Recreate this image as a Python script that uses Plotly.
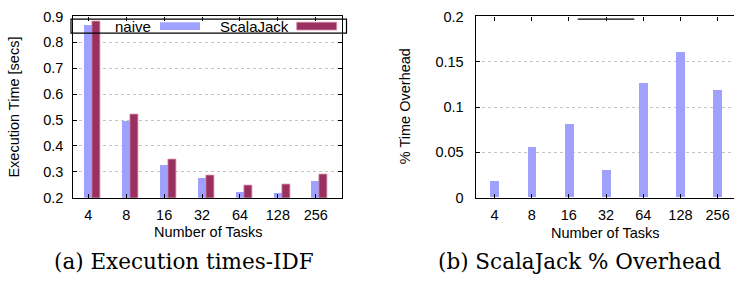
import plotly.graph_objects as go

# ---- data ----
categories = ["4", "8", "16", "32", "64", "128", "256"]
naive_times = [0.866, 0.495, 0.325, 0.276, 0.222, 0.217, 0.261]
scalajack_times = [0.881, 0.522, 0.349, 0.284, 0.249, 0.250, 0.291]
overhead = [0.0177, 0.0549, 0.081, 0.0295, 0.126, 0.160, 0.118]
left_yticks = [0.2, 0.3, 0.4, 0.5, 0.6, 0.7, 0.8, 0.9]
left_yticktext = ["0.2", "0.3", "0.4", "0.5", "0.6", "0.7", "0.8", "0.9"]
right_yticks = [0, 0.05, 0.1, 0.15, 0.2]
right_yticktext = ["0", "0.05", "0.1", "0.15", "0.2"]

W, H = 734, 285
xpos = list(range(len(categories)))

NAIVE = "#a0a0ff"
SJ = "#99305f"
SANS = "Liberation Sans, Arial, sans-serif"
SERIF = "DejaVu Serif, serif"
FS = 14.5


def px(x):
    return x / W


def py(y):
    return 1 - y / H


fig = go.Figure()

bw = 0.21
fig.add_trace(go.Bar(x=xpos, y=naive_times, name="naive", width=bw, offset=-bw / 2,
                     marker=dict(color=NAIVE, line=dict(width=0)),
                     xaxis="x", yaxis="y", showlegend=False))
fig.add_trace(go.Bar(x=xpos, y=scalajack_times, name="ScalaJack", width=bw, offset=bw / 2,
                     marker=dict(color=SJ, line=dict(width=0.8, color="#d58fae")),
                     xaxis="x", yaxis="y", showlegend=False))
bw2 = 0.24
fig.add_trace(go.Bar(x=xpos, y=overhead, name="overhead", width=bw2, offset=-bw2 / 2,
                     marker=dict(color=NAIVE, line=dict(width=0)),
                     xaxis="x2", yaxis="y2", showlegend=False))

ydom = [py(201), py(9)]
common_x = dict(tickmode="array", tickvals=xpos, ticktext=categories,
                ticks="inside", ticklen=4, tickcolor="black",
                showline=True, linecolor="black", linewidth=1.2,
                showgrid=False, zeroline=False,
                tickfont=dict(family=SANS, size=FS, color="black"),
                ticklabelstandoff=4)
common_y = dict(ticks="inside", ticklen=4, tickcolor="black",
                showline=True, linecolor="black", linewidth=1.2,
                showgrid=True, gridcolor="#c4c4c4", griddash="dot", gridwidth=1,
                zeroline=False,
                tickfont=dict(family=SANS, size=FS, color="black"))

fig.update_layout(
    width=W, height=H,
    margin=dict(l=0, r=0, t=0, b=0),
    paper_bgcolor="white", plot_bgcolor="white",
    bargap=0,
    xaxis=dict(domain=[px(73.3), px(342.3)], range=[-0.396, 6.70], mirror="ticks",
               anchor="y", **common_x),
    yaxis=dict(domain=ydom, range=[0.2, 0.9], tickvals=left_yticks, ticktext=left_yticktext,
               mirror="ticks", anchor="x", ticklabelstandoff=6, **common_y),
    xaxis2=dict(domain=[px(475.7), 1.0], range=[-0.505, 6.44], mirror="ticks",
                anchor="y2", **common_x),
    yaxis2=dict(domain=ydom, range=[0, 0.2], tickvals=right_yticks, ticktext=right_yticktext,
                mirror=False, anchor="x2", ticklabelstandoff=8, **common_y),
)

shapes = []
# legend box (left chart)
shapes.append(dict(type="rect", xref="paper", yref="paper",
                   x0=px(71), x1=px(346.5), y0=py(26.7), y1=py(11.7),
                   line=dict(color="black", width=1.2), fillcolor="rgba(0,0,0,0)"))
shapes.append(dict(type="rect", xref="paper", yref="paper",
                   x0=px(160), x1=px(200), y0=py(23.3), y1=py(15),
                   line=dict(width=0), fillcolor=NAIVE))
shapes.append(dict(type="rect", xref="paper", yref="paper",
                   x0=px(296.7), x1=px(336.7), y0=py(23.3), y1=py(15),
                   line=dict(width=0.8, color="#d58fae"), fillcolor=SJ))
# legend key line (right chart)
shapes.append(dict(type="line", xref="paper", yref="paper",
                   x0=px(577.7), x1=px(634.3), y0=py(11.7), y1=py(11.7),
                   line=dict(color="black", width=1.3)))
fig.update_layout(shapes=shapes)

ann = []
ann.append(dict(text="naive", x=px(133), y=py(19.3), xref="paper", yref="paper",
                showarrow=False, xanchor="center", yanchor="middle",
                font=dict(family=SANS, size=15, color="black")))
ann.append(dict(text="ScalaJack", x=px(254.3), y=py(19.3), xref="paper", yref="paper",
                showarrow=False, xanchor="center", yanchor="middle",
                font=dict(family=SANS, size=15, color="black")))
ann.append(dict(text="Execution Time [secs]", x=px(14), y=py(105.5), xref="paper", yref="paper",
                showarrow=False, textangle=-90, xanchor="center", yanchor="middle",
                font=dict(family=SANS, size=FS, color="black")))
ann.append(dict(text="% Time Overhead", x=px(405), y=py(104), xref="paper", yref="paper",
                showarrow=False, textangle=-90, xanchor="center", yanchor="middle",
                font=dict(family=SANS, size=FS, color="black")))
ann.append(dict(text="Number of Tasks", x=px(208), y=py(237.5), xref="paper", yref="paper",
                showarrow=False, xanchor="center", yanchor="middle",
                font=dict(family=SANS, size=FS, color="black")))
ann.append(dict(text="Number of Tasks", x=px(605.8), y=py(238), xref="paper", yref="paper",
                showarrow=False, xanchor="center", yanchor="middle",
                font=dict(family=SANS, size=FS, color="black")))
ann.append(dict(text="(a) Execution times-IDF", x=px(184), y=py(269), xref="paper", yref="paper",
                showarrow=False, xanchor="center", yanchor="middle",
                font=dict(family=SERIF, size=21.5, color="black")))
ann.append(dict(text="(b) ScalaJack % Overhead", x=px(579), y=py(268.5), xref="paper", yref="paper",
                showarrow=False, xanchor="center", yanchor="middle",
                font=dict(family=SERIF, size=21.5, color="black")))
fig.update_layout(annotations=ann)

fig.write_html("out.html", config={"displayModeBar": False},
               post_script="document.body.style.margin='0';document.body.style.padding='0';"
                           "document.body.style.overflow='hidden';")
